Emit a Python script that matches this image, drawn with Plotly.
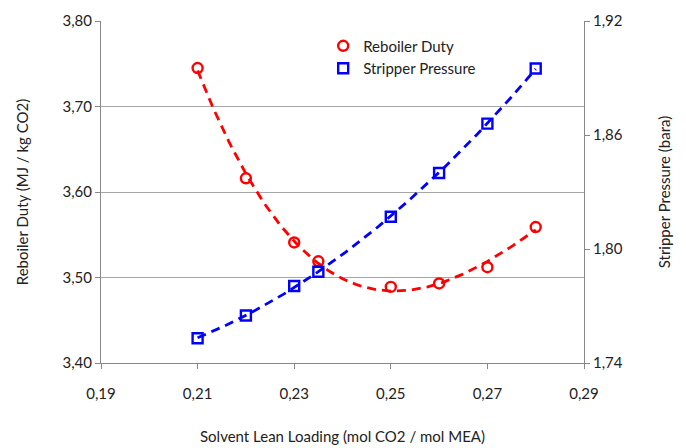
import numpy as np
import plotly.graph_objects as go

loading = [0.21, 0.22, 0.23, 0.235, 0.25, 0.26, 0.27, 0.28]
reboiler_duty = [3.745, 3.616, 3.541, 3.519, 3.489, 3.493, 3.512, 3.559]
stripper_pressure = [1.753, 1.765, 1.7805, 1.788, 1.817, 1.840, 1.866, 1.895]

x_ticks = [0.19, 0.21, 0.23, 0.25, 0.27, 0.29]
y1_ticks = [3.40, 3.50, 3.60, 3.70, 3.80]
y2_ticks = [1.74, 1.80, 1.86, 1.92]

# polynomial trendlines, as in the original spreadsheet chart
xs = np.linspace(min(loading), max(loading), 120)
fit_r = np.polyval(np.polyfit(loading, reboiler_duty, 3), xs)
fit_b = np.polyval(np.polyfit(loading, stripper_pressure, 2), xs)

FONT = "Lato, 'Open Sans', sans-serif"
fig = go.Figure()
fig.add_trace(go.Scatter(x=xs, y=fit_r, mode="lines", showlegend=False, hoverinfo="skip",
                         line=dict(color="#ff0000", width=2.8, dash="9px,6px")))
fig.add_trace(go.Scatter(x=xs, y=fit_b, mode="lines", showlegend=False, hoverinfo="skip", yaxis="y2",
                         line=dict(color="#0000ff", width=2.8, dash="9px,6px")))
fig.add_trace(go.Scatter(x=loading, y=reboiler_duty, mode="markers", name="Reboiler Duty",
                         marker=dict(symbol="circle-open", size=10, color="#ff0000", line=dict(width=2.4))))
fig.add_trace(go.Scatter(x=loading, y=stripper_pressure, mode="markers", name="Stripper Pressure", yaxis="y2",
                         marker=dict(symbol="square-open", size=10, color="#0000ff", line=dict(width=2.4))))

fig.update_layout(
    width=686, height=448,
    margin=dict(l=101, r=102, t=21, b=85),
    paper_bgcolor="white", plot_bgcolor="white",
    separators=", ",
    font=dict(family=FONT, size=15, color="#222"),
    xaxis=dict(range=[0.19, 0.29], tickvals=x_ticks, tickformat=".2f", showgrid=False, automargin=False,
               showline=True, linecolor="#888", linewidth=1, ticks="outside", ticklen=5, tickcolor="#888",
               zeroline=False, ticklabelstandoff=12,
               title=dict(text="Solvent Lean Loading (mol CO2 / mol MEA)", standoff=30, font=dict(size=15))),
    yaxis=dict(range=[3.40, 3.80], tickvals=y1_ticks, tickformat=".2f", showgrid=True, gridcolor="#a6a6a6",
               gridwidth=1, showline=True, linecolor="#888", linewidth=1, ticks="outside", ticklen=5,
               tickcolor="#888", zeroline=False, automargin=False,
               title=dict(text="Reboiler Duty (MJ / kg CO2)", standoff=30, font=dict(size=15))),
    yaxis2=dict(range=[1.74, 1.92], tickvals=y2_ticks, tickformat=".2f", overlaying="y", side="right",
                showgrid=False, showline=True, linecolor="#888", linewidth=1, ticks="outside", ticklen=5,
                tickcolor="#888", zeroline=False, automargin=False,
                title=dict(text="Stripper Pressure (bara)", standoff=37, font=dict(size=15))),
    legend=dict(x=0.46, y=0.975, xanchor="left", yanchor="top", bgcolor="rgba(0,0,0,0)",
                font=dict(size=15), itemwidth=30, tracegroupgap=0),
)
fig.write_html("out.html")
